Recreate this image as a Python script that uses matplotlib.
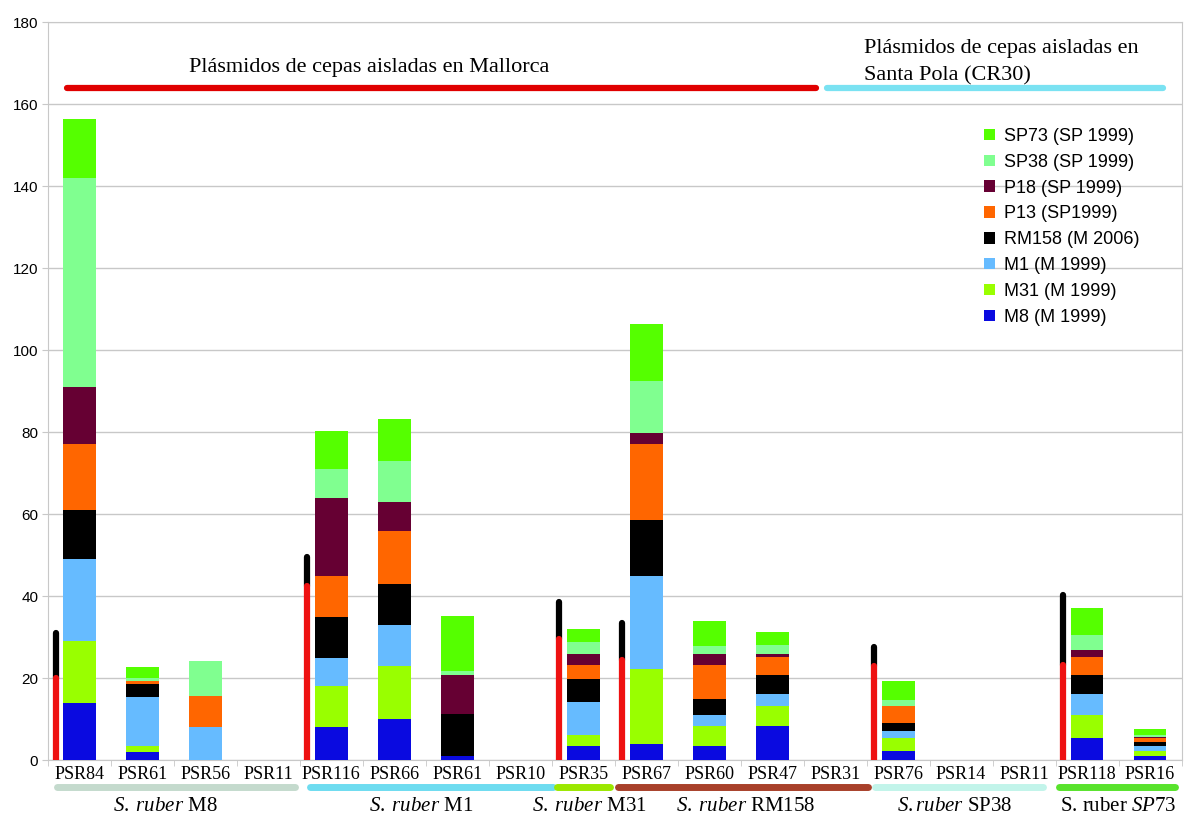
import numpy as np
import matplotlib
matplotlib.use("Agg")
import matplotlib.pyplot as plt

plt.rcParams['mathtext.fontset'] = 'custom'
plt.rcParams['mathtext.rm'] = 'Liberation Serif'
plt.rcParams['mathtext.it'] = 'Liberation Serif:italic'

# plasmids (x categories)
labels = ['PSR84', 'PSR61', 'PSR56', 'PSR11', 'PSR116', 'PSR66', 'PSR61', 'PSR10', 'PSR35',
          'PSR67', 'PSR60', 'PSR47', 'PSR31', 'PSR76', 'PSR14', 'PSR11', 'PSR118', 'PSR16']

# stacked series, bottom to top
M8 = [14, 2, 0, 0, 8, 10, 1, 0, 3.3, 4, 3.5, 8.3, 0, 2.3, 0, 0, 5.3, 0.9]
M31 = [15, 1.3, 0, 0, 10, 13, 0, 0, 2.7, 18.1, 4.8, 4.8, 0, 3, 0, 0, 5.8, 1.4]
M1 = [20, 12, 8, 0, 7, 10, 0, 0, 8.1, 22.7, 2.8, 2.9, 0, 1.9, 0, 0, 4.9, 1.2]
RM158 = [12, 3.3, 0, 0, 10, 10, 10.2, 0, 5.6, 13.8, 3.9, 4.8, 0, 1.9, 0, 0, 4.8, 0.9]
P13 = [16, 0.7, 7.7, 0, 10, 13, 0, 0, 3.4, 18.4, 8.1, 4.3, 0, 4, 0, 0, 4.3, 1.0]
P18 = [14, 0, 0, 0, 19, 7, 9.5, 0, 2.8, 2.8, 2.8, 0.8, 0, 0, 0, 0, 1.8, 0.3]
SP38 = [51, 0.7, 8.5, 0, 7, 10, 1, 0, 2.9, 12.7, 2, 2.2, 0, 1.5, 0, 0, 3.7, 0.5]
SP73 = [14.5, 2.8, 0, 0, 9.4, 10.3, 13.4, 0, 3.2, 14, 6.1, 3.1, 0, 4.6, 0, 0, 6.4, 1.3]

series = [
    ('M8 (M 1999)', M8, '#0a0ae0'),
    ('M31 (M 1999)', M31, '#99ff00'),
    ('M1 (M 1999)', M1, '#66bbff'),
    ('RM158 (M 2006)', RM158, '#000000'),
    ('P13 (SP1999)', P13, '#ff6600'),
    ('P18 (SP 1999)', P18, '#660033'),
    ('SP38 (SP 1999)', SP38, '#80ff90'),
    ('SP73 (SP 1999)', SP73, '#55ff00'),
]

# red / black marker lines beside some bars
mark_idx = [0, 4, 8, 9, 13, 16]
red_top = [20, 42.5, 29.5, 24.3, 23, 23.2]
black_top = [31, 49.5, 38.5, 33.5, 27.5, 40.3]

# strain groups under the axis
groups = [r'$\it{S.\;ruber}$ M8', r'$\it{S.\;ruber}$ M1', r'$\it{S.\;ruber}$ M31',
          r'$\it{S.\;ruber}$ RM158', r'$\it{S.ruber}$ SP38', r'S. ruber $\it{SP73}$']
group_start = [-0.36, 3.66, 7.58, 8.55, 12.64, 15.55]
group_end = [3.42, 7.52, 8.42, 12.52, 15.3, 17.4]
group_label_x = [1.37, 5.43, 8.1, 10.58, 13.9, 16.5]
group_colors = ['#c4dacd', '#6edcf0', '#9be800', '#a8402a', '#c2f4ea', '#58e32c']

fig = plt.figure(figsize=(11.87, 8.16), dpi=100)
ax = fig.add_axes([0.0404, 0.0686, 0.955, 0.904])

x = np.arange(len(labels))
bottom = np.zeros(len(labels))
handles = []
for name, vals, col in series:
    b = ax.bar(x, vals, width=0.52, bottom=bottom, color=col, label=name, zorder=3)
    handles.append(b)
    bottom += np.array(vals)

for i, r, k in zip(mark_idx, red_top, black_top):
    ax.plot([i - 0.38, i - 0.38], [r, k], color='black', lw=4.5,
            solid_capstyle='round', zorder=4)
    ax.plot([i - 0.38, i - 0.38], [0, r], color='#ee1111', lw=4.5,
            solid_capstyle='round', zorder=4)

ax.set_xlim(-0.5, len(labels) - 0.5)
ax.set_ylim(0, 180)
ax.set_yticks(np.arange(0, 181, 20))
ax.set_yticklabels([str(v) for v in range(0, 181, 20)], fontfamily='Liberation Sans', fontsize=11)
ax.set_xticks(x)
ax.set_xticklabels(labels, fontfamily='Liberation Serif', fontsize=13)
ax.set_xticks(np.arange(-0.5, len(labels), 1), minor=True)
ax.tick_params(axis='x', which='major', length=0, pad=4)
ax.tick_params(axis='x', which='minor', length=4, color='#c8c8c8')
ax.tick_params(axis='y', length=4, color='#c8c8c8', pad=3)
ax.grid(axis='y', color='#c8c8c8', lw=1, zorder=0)
for s in ax.spines.values():
    s.set_color('#c8c8c8')

# top annotations
ax.plot([-0.2, 11.7], [164, 164], color='#e00000', lw=4.5, solid_capstyle='round', clip_on=False)
ax.plot([11.87, 17.2], [164, 164], color='#7ae2f2', lw=4.5, solid_capstyle='round', clip_on=False)
ax.text(4.6, 169, 'Plásmidos de cepas aisladas en Mallorca', ha='center', va='center',
        fontfamily='Liberation Serif', fontsize=16)
ax.text(12.45, 170.2, 'Plásmidos de cepas aisladas en\nSanta Pola (CR30)', ha='left', va='center',
        fontfamily='Liberation Serif', fontsize=16, linespacing=1.55)

# strain group bars and labels below axis
for name, s0, s1, lx, col in zip(groups, group_start, group_end, group_label_x, group_colors):
    ax.plot([s0, s1], [-6.6, -6.6], color=col, lw=5, solid_capstyle='round', clip_on=False)
    ax.text(lx, -11.3, name, ha='center', va='center', fontfamily='Liberation Serif',
            fontsize=15)

ax.legend(handles[::-1], [h.get_label() for h in handles[::-1]], loc='upper left',
          bbox_to_anchor=(0.826, 0.857), frameon=False, borderpad=0, borderaxespad=0,
          prop={'family': 'Liberation Sans', 'size': 13}, handlelength=0.6, handleheight=0.6,
          handletextpad=0.5, labelspacing=0.49)

fig.savefig('out.png', dpi=100)
